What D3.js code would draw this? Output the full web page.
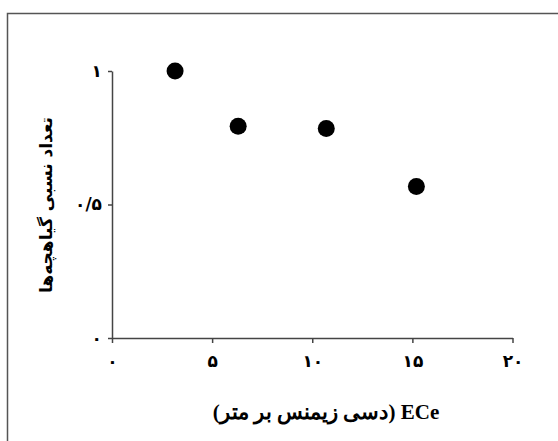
<!DOCTYPE html>
<html>
<head>
<meta charset="utf-8">
<script src="https://cdn.jsdelivr.net/npm/d3@7/dist/d3.min.js"></script>
<style>
html,body{margin:0;padding:0;background:#fff;}
svg{display:block;}
</style>
</head>
<body>
<script>
const ecValues = [3.15, 6.3, 10.7, 15.2];
const relCount = [1.0, 0.793, 0.785, 0.567];
const xTicks = [0, 5, 10, 15, 20];
const xTickLabels = ["۰", "۵", "۱۰", "۱۵", "۲۰"];
const yTicks = [0, 0.5, 1];
const yTickLabels = ["۰", "۰/۵", "۱"];
const xTitle = "ECe (دسی زیمنس بر متر)";
const yTitle = "تعداد نسبی گیاهچه‌ها";

const W = 558, H = 441;
const svg = d3.select("body").append("svg").attr("width", W).attr("height", H);

svg.append("rect").attr("x", 7.5).attr("y", 13.5).attr("width", 560).attr("height", 440)
  .attr("fill", "none").attr("stroke", "#555").attr("stroke-width", 1.5);

const x = d3.scaleLinear().domain([0, 20]).range([112, 512.5]);
const y = d3.scaleLinear().domain([0, 1]).range([338, 71]);

const xAxis = d3.axisBottom(x).tickValues(xTicks)
  .tickFormat((d, i) => xTickLabels[i]).tickSize(5).tickSizeOuter(0).tickPadding(12);
const yAxis = d3.axisLeft(y).tickValues(yTicks)
  .tickFormat((d, i) => yTickLabels[i]).tickSize(4).tickSizeOuter(0).tickPadding(6);

const gx = svg.append("g").attr("transform", `translate(0,${y(0)})`).call(xAxis);
const gy = svg.append("g").attr("transform", `translate(${x(0)},0)`).call(yAxis);

[gx, gy].forEach(g => {
  g.select(".domain").attr("stroke", "#444").attr("stroke-width", 1.5);
  g.selectAll(".tick line").attr("stroke", "#444").attr("stroke-width", 1.5);
  g.selectAll(".tick text").attr("fill", "#000")
    .style("font-family", "'DejaVu Sans', sans-serif").style("font-size", "17px").style("font-weight", "bold");
});
gy.selectAll(".tick text").attr("dy", "0.3em");

svg.append("g").selectAll("circle")
  .data(ecValues.map((v, i) => [v, relCount[i]]))
  .join("circle")
  .attr("cx", d => x(d[0])).attr("cy", d => y(d[1])).attr("r", 8.5)
  .attr("fill", "#000");

svg.append("text")
  .attr("x", 326).attr("y", 419)
  .attr("text-anchor", "middle")
  .attr("direction", "rtl")
  .style("unicode-bidi", "embed")
  .style("font-family", "'Liberation Serif', 'DejaVu Serif', serif")
  .style("font-size", "21px").style("font-weight", "bold")
  .text(xTitle);

svg.append("text")
  .attr("transform", "translate(52,205) rotate(-90)")
  .attr("text-anchor", "middle")
  .attr("direction", "rtl")
  .style("font-family", "'DejaVu Sans', sans-serif")
  .style("font-size", "17px").style("font-weight", "bold")
  .text(yTitle);
</script>
</body>
</html>
